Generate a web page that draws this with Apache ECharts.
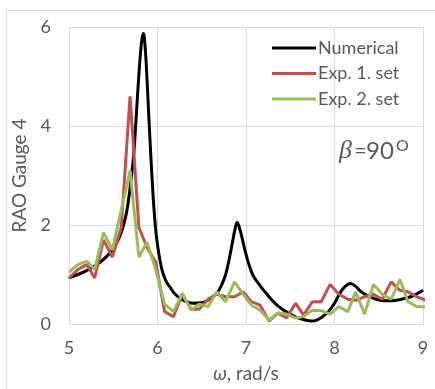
<!DOCTYPE html>
<html><head><meta charset="utf-8">
<script src="https://cdn.jsdelivr.net/npm/echarts@6/dist/echarts.min.js"></script>
<style>html,body{margin:0;padding:0;background:#fff}#c{width:435px;height:389px}</style>
</head><body><div id="c"></div>
<script>
// Numerical RAO curve
const omegaNum = [5.0,5.1,5.2,5.3,5.4,5.5,5.55,5.6,5.65,5.69,5.73,5.76,5.79,5.82,5.84,5.86,5.88,5.91,5.94,5.97,6.0,6.05,6.1,6.14,6.2,6.29,6.4,6.5,6.6,6.67,6.72,6.77,6.82,6.85,6.88,6.9,6.92,6.95,6.99,7.03,7.08,7.14,7.2,7.3,7.37,7.45,7.55,7.65,7.74,7.8,7.86,7.93,8.0,8.06,8.12,8.18,8.24,8.3,8.4,8.52,8.6,8.7,8.8,8.9,9.0];
const raoNum   = [0.93,1.0,1.08,1.18,1.32,1.52,1.68,1.9,2.25,2.75,3.4,4.2,5.05,5.7,5.87,5.6,5.0,3.9,2.9,2.1,1.6,1.1,0.85,0.75,0.6,0.48,0.42,0.43,0.52,0.62,0.77,1.0,1.4,1.68,1.95,2.05,1.98,1.78,1.48,1.22,0.98,0.82,0.68,0.47,0.35,0.25,0.15,0.09,0.06,0.08,0.14,0.25,0.42,0.62,0.76,0.82,0.76,0.65,0.55,0.48,0.47,0.48,0.52,0.58,0.68];
// Experimental points
const omegaExp = [5.00,5.10,5.20,5.29,5.39,5.49,5.59,5.69,5.79,5.88,5.98,6.08,6.18,6.28,6.38,6.47,6.57,6.67,6.77,6.87,6.97,7.06,7.16,7.26,7.36,7.46,7.56,7.65,7.75,7.85,7.95,8.05,8.15,8.24,8.34,8.44,8.54,8.64,8.74,8.83,8.93,9.03];
const raoExp1  = [0.93,1.1,1.2,0.93,1.7,1.35,1.95,4.6,1.95,1.55,1.25,0.25,0.15,0.6,0.3,0.3,0.5,0.6,0.55,0.55,0.65,0.45,0.38,0.06,0.22,0.12,0.42,0.18,0.45,0.45,0.8,0.6,0.5,0.48,0.55,0.6,0.5,0.85,0.68,0.65,0.55,0.48];
const raoExp2  = [1.05,1.2,1.27,1.1,1.85,1.5,2.3,3.1,1.35,1.65,1.1,0.4,0.25,0.62,0.28,0.4,0.35,0.65,0.45,0.85,0.6,0.38,0.28,0.08,0.22,0.2,0.12,0.15,0.28,0.27,0.2,0.35,0.25,0.65,0.2,0.8,0.6,0.5,0.9,0.45,0.35,0.35];
const seriesNames = ['Numerical','Exp. 1. set','Exp. 2. set'];
const xTicks = [5,6,7,8,9];
const yTicks = [0,2,4,6];

const pair = (xs, ys) => xs.map((x, i) => [x, ys[i]]);
const FONT = 'Lato';
const GRAY = '#595959';
const chart = echarts.init(document.getElementById('c'), null, {renderer: 'canvas'});
chart.setOption({
  animation: false,
  backgroundColor: '#fff',
  textStyle: {fontFamily: FONT},
  grid: {left: 69, right: 12, top: 27, bottom: 65},
  legend: {
    orient: 'vertical', left: 267, top: 34, itemWidth: 44, itemHeight: 3, itemGap: 7.5,
    icon: 'rect',
    textStyle: {fontFamily: FONT, fontSize: 18, color: GRAY, lineHeight: 18, padding: [0,0,0,-3]},
    data: seriesNames
  },
  xAxis: {
    type: 'value', min: xTicks[0], max: xTicks[xTicks.length-1], interval: 1,
    axisLine: {show: true, lineStyle: {color: '#d9d9d9', width: 1}},
    axisTick: {show: false},
    splitLine: {show: true, lineStyle: {color: '#d9d9d9', width: 1}},
    axisLabel: {fontFamily: FONT, fontSize: 18, color: GRAY, margin: 15},
    name: '{i|ω}, rad/s', nameLocation: 'middle', nameGap: 40,
    nameTextStyle: {fontFamily: FONT, fontSize: 19, color: GRAY, rich: {i: {fontFamily: FONT, fontStyle: 'italic', fontSize: 19, color: GRAY}}}
  },
  yAxis: {
    type: 'value', min: yTicks[0], max: yTicks[yTicks.length-1], interval: 2,
    axisLine: {show: true, lineStyle: {color: '#d9d9d9', width: 1}},
    axisTick: {show: false},
    splitLine: {show: true, lineStyle: {color: '#d9d9d9', width: 1}},
    axisLabel: {fontFamily: FONT, fontSize: 18, color: GRAY, margin: 18},
    name: 'RAO Gauge 4', nameLocation: 'middle', nameGap: 25,
    nameTextStyle: {fontFamily: FONT, fontSize: 19, color: GRAY}
  },
  series: [
    {name: seriesNames[0], type: 'line', data: pair(omegaNum, raoNum), smooth: 0.4, showSymbol: false,
     lineStyle: {color: '#000', width: 3}, itemStyle: {color: '#000'}},
    {name: seriesNames[1], type: 'line', data: pair(omegaExp, raoExp1), showSymbol: false,
     lineStyle: {color: '#c0504d', width: 3}, itemStyle: {color: '#c0504d'}},
    {name: seriesNames[2], type: 'line', data: pair(omegaExp, raoExp2), showSymbol: false,
     lineStyle: {color: '#9bbb59', width: 3}, itemStyle: {color: '#9bbb59'}}
  ],
  graphic: [
    {type: 'rect', shape: {x: 6.5, y: 10.5, width: 440, height: 400}, style: {fill: 'none', stroke: '#d9d9d9', lineWidth: 1}, z: -1, silent: true},
    {type: 'text', x: 339, y: 151, style: {text: 'β', font: 'italic 26px "Liberation Serif"', fill: GRAY, verticalAlign: 'middle'}},
    {type: 'text', x: 354, y: 151, style: {text: '=', font: '22px Lato', fill: GRAY, verticalAlign: 'middle'}},
    {type: 'text', x: 366, y: 151, style: {text: '90', font: '24px Lato', fill: GRAY, verticalAlign: 'middle'}},
    {type: 'text', x: 396, y: 146, style: {text: 'O', font: '16px Lato', fill: GRAY, verticalAlign: 'middle'}}
  ]
});
</script></body></html>
